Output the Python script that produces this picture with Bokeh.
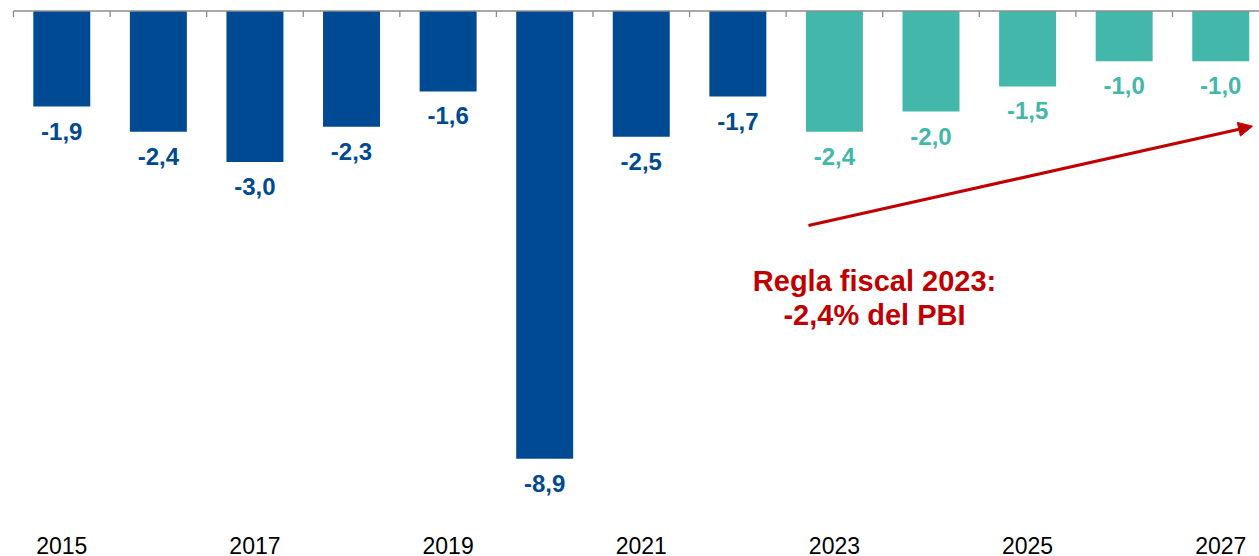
from bokeh.plotting import figure
from bokeh.models import ColumnDataSource, Range1d, FixedTicker, Arrow, NormalHead, Label
from bokeh.core.properties import value
from bokeh.embed import file_html
from bokeh.resources import INLINE

# ---- data ----
years = [2015, 2016, 2017, 2018, 2019, 2020, 2021, 2022, 2023, 2024, 2025, 2026, 2027]
balance = [-1.9, -2.4, -3.0, -2.3, -1.6, -8.9, -2.5, -1.7, -2.4, -2.0, -1.5, -1.0, -1.0]
first_projected_year = 2023
tick_years = [2015, 2017, 2019, 2021, 2023, 2025, 2027]
note_lines = ["Regla fiscal 2023:", "-2,4% del PBI"]

BLUE = "#004A93"
TEAL = "#43B8AA"
RED = "#C00000"
AXIS_GRAY = "#8C8C8C"
FONT = "Liberation Sans"

colors = [BLUE if y < first_projected_year else TEAL for y in years]
labels = [f"{v:.1f}".replace(".", ",") for v in balance]

src = ColumnDataSource(dict(year=years, value=balance, color=colors, label=labels))

p = figure(width=1259, height=556,
           x_range=Range1d(2014.3654, 2027.4012), y_range=Range1d(-10.447, 0.2087),
           y_axis_location=None, output_backend="svg", toolbar_location=None,
           min_border_left=0, min_border_right=0, min_border_top=0, min_border_bottom=0,
           background_fill_color="white", border_fill_color="white")
p.outline_line_color = None
p.xgrid.visible = False
p.ygrid.visible = False

p.vbar(x="year", top=0, bottom="value", width=0.59, fill_color="color",
       line_color=None, source=src)

# axis line at zero with category-boundary ticks
bounds = [y - 0.5 for y in years] + [years[-1] + 0.5]
p.segment(x0=[bounds[0]], y0=[0], x1=[bounds[-1]], y1=[0], line_color=AXIS_GRAY, line_width=1.3)
p.segment(x0=bounds, y0=[0] * len(bounds), x1=bounds, y1=[-0.12] * len(bounds),
          line_color=AXIS_GRAY, line_width=1.3)

p.text(x="year", y="value", text="label", source=src, text_align="center",
       text_baseline="top", y_offset=16, text_font=value(FONT), text_font_style="bold",
       text_font_size="24px", text_color="color")

ax = p.xaxis[0]
ax.ticker = FixedTicker(ticks=tick_years)
ax.axis_line_color = None
ax.major_tick_line_color = None
ax.minor_tick_line_color = None
ax.major_tick_out = 0
ax.major_tick_in = 0
ax.major_label_standoff = 0
ax.major_label_text_font = FONT
ax.major_label_text_font_size = "23px"
ax.major_label_text_color = "black"

p.add_layout(Arrow(end=NormalHead(size=14, fill_color=RED, line_color=RED),
                   x_start=2022.731, y_start=-4.265, x_end=2027.329, y_end=-2.290,
                   line_color=RED, line_width=3))

for txt, yy in zip(note_lines, [-5.36, -6.04]):
    p.add_layout(Label(x=2023.415, y=yy, text=txt, text_align="center",
                       text_baseline="alphabetic", text_font=FONT, text_font_style="bold",
                       text_font_size="29px", text_color=RED))

open("out.html", "w").write(file_html(p, INLINE))
